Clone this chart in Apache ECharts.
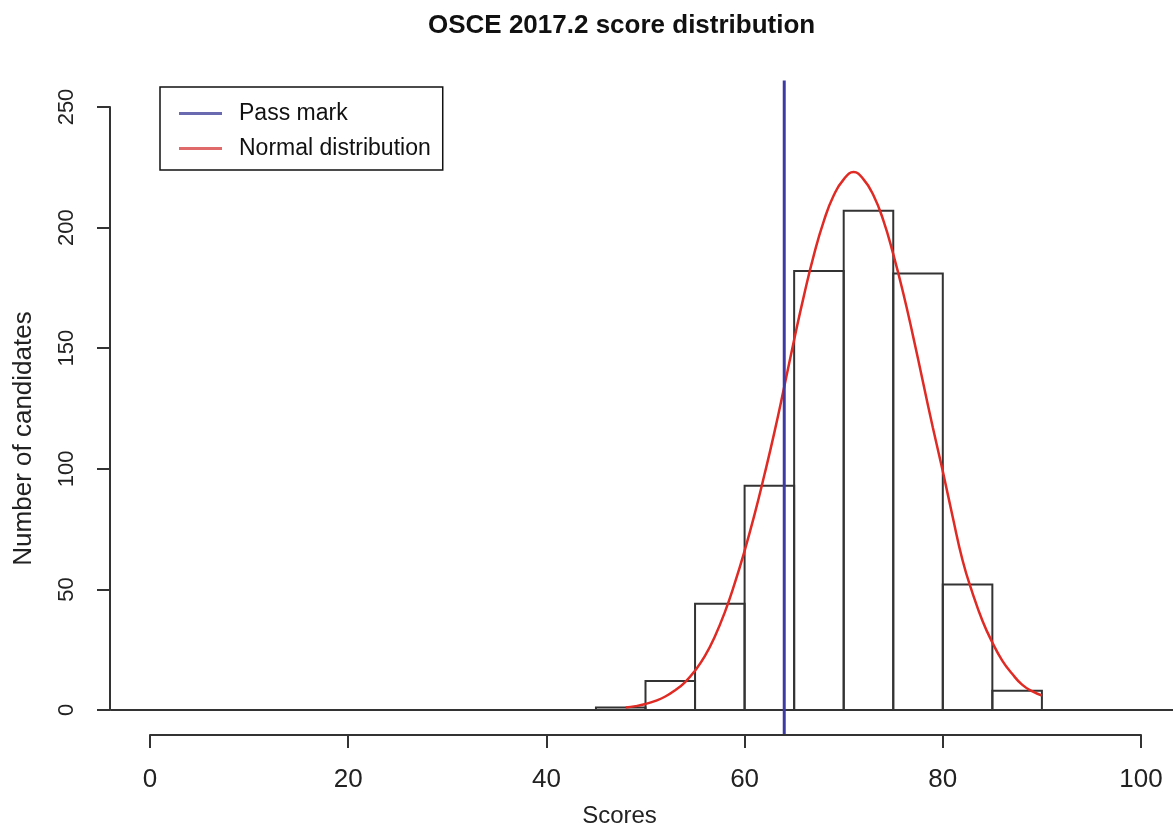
<!DOCTYPE html>
<html>
<head>
<meta charset="utf-8">
<script src="https://cdn.jsdelivr.net/npm/echarts@6/dist/echarts.min.js"></script>
<style>
  html, body { margin: 0; padding: 0; background: #fff; }
  #chart { width: 1173px; height: 828px; }
</style>
</head>
<body>
<div id="chart"></div>
<script>
// ---- data ----
const binStarts = [45, 50, 55, 60, 65, 70, 75, 80, 85];
const binWidth = 5;
const binCounts = [1, 12, 44, 93, 182, 207, 181, 52, 8];
const curveX = [48,49,50,51,52,53,54,55,56,57,58,59,60,61,62,63,64,65,66,67,68,69,70,71,72,73,74,75,76,77,78,79,80,81,82,83,84,85,86,87,88,89,90];
const curveY = [1.0,1.6,2.5,3.8,5.6,8.2,11.6,16.3,22.4,30.5,40.5,52.5,66.0,81.0,97.5,115.0,134.0,153.5,172.0,188.8,202.8,213.4,220.0,223.0,220.0,213.4,203.0,189.0,173.0,155.0,136.0,117.0,99.0,80.0,62.0,48.5,37.0,28.0,20.5,15.0,10.5,7.8,6.0];
const passMark = 64;
const xTicks = [0, 20, 40, 60, 80, 100];
const yTicks = [0, 50, 100, 150, 200, 250];
// R plot region extents (data units) used by abline-like lines
const plotXRange = [-4, 104];
const plotYRange = [-10, 261];

const FONT = '"Liberation Sans", Arial, Helvetica, sans-serif';

const histData = binStarts.map((s, i) => [s, s + binWidth, binCounts[i]]);
const curveData = curveX.map((x, i) => [x, curveY[i]]);

const chart = echarts.init(document.getElementById('chart'), null, { renderer: 'canvas' });

chart.setOption({
  animation: false,
  backgroundColor: '#ffffff',
  title: {
    text: 'OSCE 2017.2 score distribution',
    left: 428,
    top: 13,
    padding: 0,
    textStyle: { fontFamily: FONT, fontSize: 26, fontWeight: 'bold', color: '#111' }
  },
  legend: {
    orient: 'vertical',
    left: 160,
    top: 87,
    padding: [15, 12, 10, 19],
    itemGap: 12,
    itemWidth: 43,
    itemHeight: 3,
    borderColor: '#111',
    borderWidth: 1.5,
    borderRadius: 0,
    icon: 'rect',
    textStyle: { fontFamily: FONT, fontSize: 23, color: '#111', padding: [0, 0, 0, 12] },
    data: [
      { name: 'Pass mark', itemStyle: { color: '#6a6ab0' } },
      { name: 'Normal distribution', itemStyle: { color: '#e06a6a' } }
    ]
  },
  grid: { left: 150, right: 32, top: 107, bottom: 118, containLabel: false, outerBoundsMode: 'none' },
  xAxis: {
    type: 'value',
    min: xTicks[0],
    max: xTicks[xTicks.length - 1],
    interval: 20,
    offset: 25,
    splitLine: { show: false },
    axisLine: { show: true, onZero: false, lineStyle: { color: '#333', width: 2 } },
    axisTick: { show: true, length: 13, lineStyle: { color: '#333', width: 2 } },
    axisLabel: { fontFamily: FONT, fontSize: 26, color: '#222', margin: 32 },
    name: 'Scores',
    nameLocation: 'middle',
    nameGap: 69,
    nameTextStyle: { fontFamily: FONT, fontSize: 24, color: '#222', padding: [0, 52, 0, 0] }
  },
  yAxis: {
    type: 'value',
    min: yTicks[0],
    max: yTicks[yTicks.length - 1],
    interval: 50,
    offset: 40,
    splitLine: { show: false },
    axisLine: { show: true, onZero: false, lineStyle: { color: '#333', width: 2 } },
    axisTick: { show: true, length: 13, lineStyle: { color: '#333', width: 2 } },
    axisLabel: { fontFamily: FONT, fontSize: 22, color: '#222', margin: 32, rotate: 90 },
    name: 'Number of candidates',
    nameLocation: 'middle',
    nameGap: 73,
    nameTextStyle: { fontFamily: FONT, fontSize: 26, color: '#222', padding: [0, 60, 0, 0] }
  },
  series: [
    {
      name: 'Histogram',
      type: 'custom',
      data: histData,
      encode: { x: [0, 1], y: 2 },
      renderItem: function (params, api) {
        const p0 = api.coord([api.value(0), 0]);
        const p1 = api.coord([api.value(1), api.value(2)]);
        return {
          type: 'rect',
          shape: { x: p0[0], y: p1[1], width: p1[0] - p0[0], height: p0[1] - p1[1] },
          style: { fill: 'rgba(0,0,0,0)', stroke: '#333', lineWidth: 2 }
        };
      },
      z: 2
    },
    {
      name: 'Normal distribution',
      type: 'line',
      data: curveData,
      smooth: true,
      showSymbol: false,
      lineStyle: { color: '#e02a24', width: 2.5 },
      itemStyle: { color: '#e02a24' },
      z: 4
    },
    {
      name: 'Pass mark',
      type: 'line',
      data: [[passMark, plotYRange[0]], [passMark, plotYRange[1]]],
      clip: false,
      showSymbol: false,
      lineStyle: { color: '#3b3ba3', width: 3 },
      itemStyle: { color: '#3b3ba3' },
      z: 5
    }
  ]
});

// horizontal reference line at y = 0 across the whole plot region (like abline(h=0))
const y0 = chart.convertToPixel({ yAxisIndex: 0 }, 0);
const xL = chart.convertToPixel({ xAxisIndex: 0 }, plotXRange[0]);
const xR = chart.convertToPixel({ xAxisIndex: 0 }, plotXRange[1]);
chart.setOption({
  graphic: [{
    type: 'line',
    z: 1,
    silent: true,
    shape: { x1: xL, y1: y0, x2: xR, y2: y0 },
    style: { stroke: '#333', lineWidth: 2 }
  }]
});
</script>
</body>
</html>
